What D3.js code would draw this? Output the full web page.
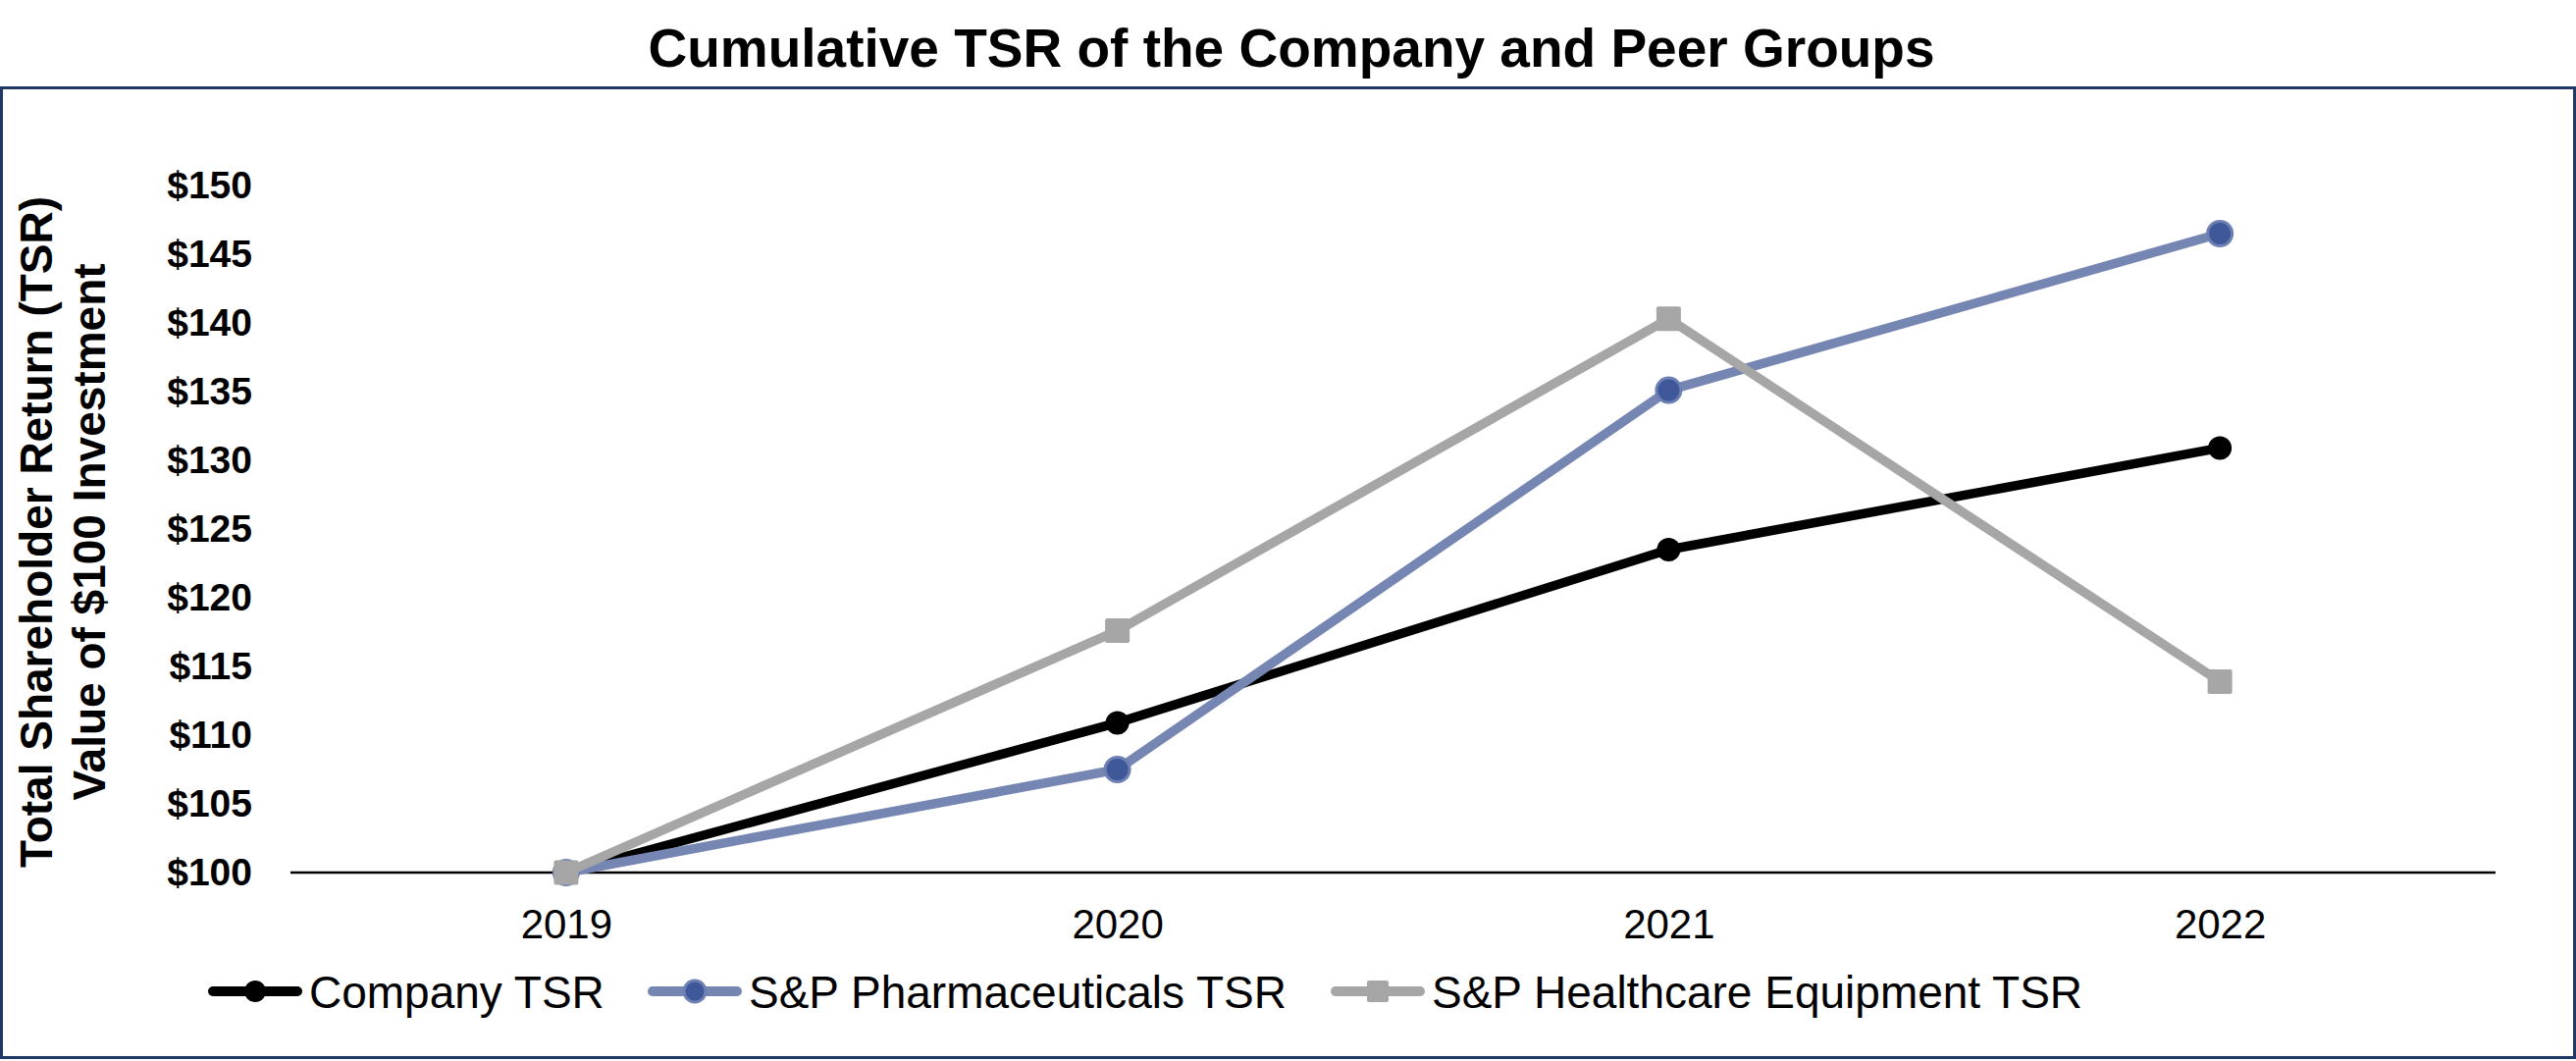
<!DOCTYPE html>
<html>
<head>
<meta charset="utf-8">
<script src="https://cdn.jsdelivr.net/npm/d3@7"></script>
<style>
  html, body { margin: 0; padding: 0; background: #ffffff; }
  svg { display: block; }
</style>
</head>
<body>
<svg id="chart" width="2625" height="1081"></svg>
<script>
// ---- Data ----
const years = ["2019", "2020", "2021", "2022"];
const companyTSR = [100, 110.9, 123.5, 130.9];
const pharmaTSR = [100, 107.5, 135.1, 146.5];
const healthTSR = [100, 117.6, 140.3, 113.9];
const yTicks = [100, 105, 110, 115, 120, 125, 130, 135, 140, 145, 150];
const seriesNames = ["Company TSR", "S&P Pharmaceuticals TSR", "S&P Healthcare Equipment TSR"];

const title = "Cumulative TSR of the Company and Peer Groups";
const yTitle = ["Total Shareholder Return (TSR)", "Value of $100 Investment"];

// ---- Layout / style ----
const FONT = "'Liberation Sans', Arial, Helvetica, sans-serif";
const svg = d3.select("#chart");

const series = [
  { name: seriesNames[0], values: companyTSR, color: "#000000", marker: "circle", mfill: "#000000", mstroke: "none", msize: 24 },
  { name: seriesNames[1], values: pharmaTSR, color: "#7586B3", marker: "circle", mfill: "#3F5899", mstroke: "#6D80B4", msize: 25 },
  { name: seriesNames[2], values: healthTSR, color: "#A6A6A6", marker: "square", mfill: "#A6A6A6", mstroke: "none", msize: 25 }
];

// Frame
svg.append("rect")
  .attr("x", 1.5).attr("y", 89.5)
  .attr("width", 2622).attr("height", 988)
  .attr("fill", "none").attr("stroke", "#1F3864").attr("stroke-width", 3);

// Title
svg.append("text")
  .attr("x", 1316).attr("y", 68)
  .attr("text-anchor", "middle")
  .attr("font-family", FONT).attr("font-weight", "bold").attr("font-size", 55)
  .attr("fill", "#000")
  .text(title);

// Scales
const x = d3.scalePoint().domain(years).range([296, 2543]).padding(0.5);
const y = d3.scaleLinear().domain([100, 150]).range([889, 189]);

// Y axis (labels only)
const yAxis = svg.append("g")
  .attr("transform", "translate(257,0)")
  .call(d3.axisLeft(y).tickValues(yTicks).tickSize(0).tickPadding(0).tickFormat(d => "$" + d));
yAxis.select(".domain").remove();
yAxis.selectAll("text")
  .attr("font-family", FONT).attr("font-weight", "bold").attr("font-size", 39)
  .attr("fill", "#000");

// X axis
const xAxis = svg.append("g")
  .attr("transform", `translate(0,${y(100)})`)
  .call(d3.axisBottom(x).tickSize(0).tickPadding(37));
xAxis.select(".domain").remove();
xAxis.selectAll("text")
  .attr("font-family", FONT).attr("font-size", 42).attr("fill", "#000");
svg.append("line")
  .attr("x1", 296).attr("x2", 2543)
  .attr("y1", y(100)).attr("y2", y(100))
  .attr("stroke", "#000").attr("stroke-width", 2.5);

// Y title
const yt = svg.append("text")
  .attr("transform", "translate(0,542) rotate(-90)")
  .attr("text-anchor", "middle")
  .attr("font-family", FONT).attr("font-weight", "bold").attr("font-size", 46)
  .attr("fill", "#000");
yt.append("tspan").attr("x", 0).attr("y", 53).text(yTitle[0]);
yt.append("tspan").attr("x", 0).attr("y", 107).text(yTitle[1]);

// Lines
const line = d3.line().x((d, i) => x(years[i])).y(d => y(d));

function drawMarker(g, s, cx, cy, size) {
  if (s.marker === "circle") {
    g.append("circle").attr("cx", cx).attr("cy", cy).attr("r", size / 2)
      .attr("fill", s.mfill)
      .attr("stroke", s.mstroke).attr("stroke-width", s.mstroke === "none" ? 0 : 3);
  } else {
    g.append("rect").attr("x", cx - size / 2).attr("y", cy - size / 2)
      .attr("width", size).attr("height", size).attr("rx", 2)
      .attr("fill", s.mfill);
  }
}

series.forEach(s => {
  const g = svg.append("g");
  g.append("path")
    .datum(s.values)
    .attr("d", line)
    .attr("fill", "none")
    .attr("stroke", s.color)
    .attr("stroke-width", 9.5)
    .attr("stroke-linejoin", "round")
    .attr("stroke-linecap", "round");
  s.values.forEach((v, i) => drawMarker(g, s, x(years[i]), y(v), s.msize));
});

// Legend
const legendY = 1010;
const legendStarts = [212, 660, 1356];
series.forEach((s, i) => {
  const g = svg.append("g");
  const x0 = legendStarts[i];
  g.append("line")
    .attr("x1", x0 + 5).attr("x2", x0 + 91)
    .attr("y1", legendY).attr("y2", legendY)
    .attr("stroke", s.color).attr("stroke-width", 10)
    .attr("stroke-linecap", "round");
  drawMarker(g, s, x0 + 48, legendY, 22);
  g.append("text")
    .attr("x", x0 + 103).attr("y", legendY)
    .attr("dy", "0.36em")
    .attr("font-family", FONT).attr("font-size", 46)
    .attr("fill", "#000")
    .text(s.name);
});
</script>
</body>
</html>
